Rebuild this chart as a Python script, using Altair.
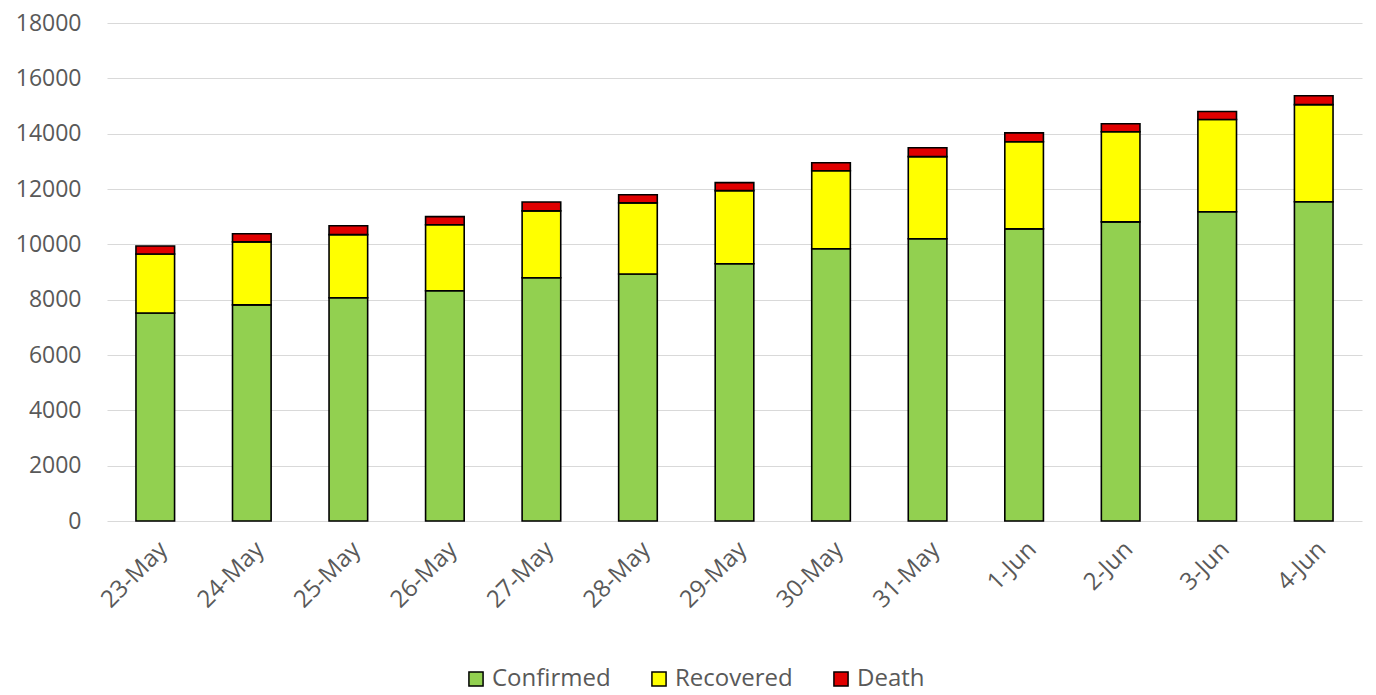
import altair as alt
import pandas as pd

dates = ["23-May", "24-May", "25-May", "26-May", "27-May", "28-May", "29-May",
         "30-May", "31-May", "1-Jun", "2-Jun", "3-Jun", "4-Jun"]
confirmed = [7520, 7810, 8070, 8320, 8790, 8930, 9300, 9840, 10200, 10560, 10810, 11180, 11540]
recovered = [2130, 2280, 2280, 2390, 2420, 2570, 2640, 2820, 2970, 3150, 3260, 3330, 3510]
death = [290, 290, 320, 290, 320, 290, 290, 290, 320, 320, 290, 290, 320]
series = ["Confirmed", "Recovered", "Death"]
colors = ["#92D050", "#FFFF00", "#E00000"]

rows = []
for i, d in enumerate(dates):
    for k, (s, vals) in enumerate(zip(series, [confirmed, recovered, death])):
        rows.append({"date": d, "series": s, "value": vals[i], "ord": k})
df = pd.DataFrame(rows)

FONT = "Open Sans"
GREY = "#595959"

chart = alt.Chart(df).mark_bar(stroke="black", strokeWidth=1.6).encode(
    x=alt.X("date:N", sort=dates, title=None,
            scale=alt.Scale(paddingInner=0.6, paddingOuter=0.3),
            axis=alt.Axis(labelAngle=-45, labelFontSize=24, labelColor=GREY,
                          labelFont=FONT, ticks=False, domain=False,
                          labelPadding=16, grid=False)),
    y=alt.Y("value:Q", stack="zero", title=None,
            scale=alt.Scale(domain=[0, 18000], nice=False),
            axis=alt.Axis(values=list(range(0, 18001, 2000)), format="d", labelFontSize=23,
                          labelColor=GREY, labelFont=FONT, ticks=False, domain=False,
                          gridColor="#d9d9d9", gridWidth=1.2, labelPadding=26)),
    color=alt.Color("series:N", sort=series,
                    scale=alt.Scale(domain=series, range=colors),
                    legend=alt.Legend(title=None, orient="none", direction="horizontal",
                                      legendX=357, legendY=644, symbolType="square",
                                      symbolSize=200, symbolStrokeColor="black",
                                      symbolStrokeWidth=1.5, labelFontSize=24,
                                      labelColor=GREY, labelFont=FONT,
                                      columnPadding=36, labelOffset=4)),
    order=alt.Order("ord:Q"),
).properties(
    width=1255, height=498,
    background="white",
    autosize=alt.AutoSizeParams(type="none"),
    padding={"left": 107, "top": 23, "right": 14, "bottom": 174},
).configure_view(stroke="transparent", strokeWidth=0)

chart.save("out.html", embed_options={"renderer": "svg", "actions": False})
